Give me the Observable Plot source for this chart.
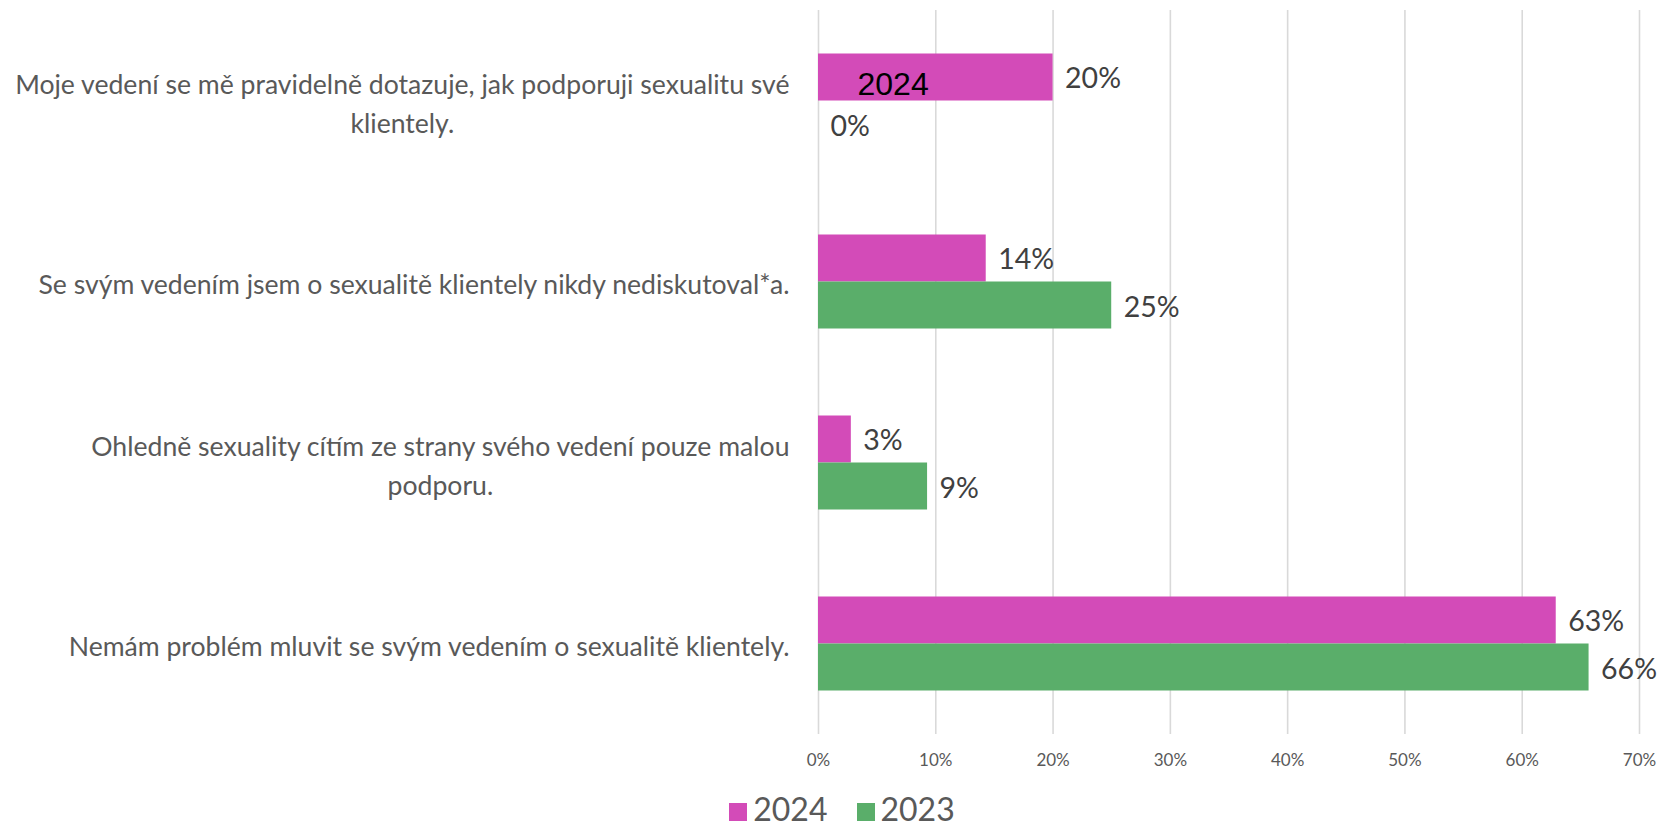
<!DOCTYPE html>
<html>
<head>
<meta charset="utf-8">
<script src="https://cdn.jsdelivr.net/npm/d3@7"></script>
<script src="https://cdn.jsdelivr.net/npm/@observablehq/plot@0.6"></script>
<style>
  html, body { margin: 0; padding: 0; background: #ffffff; overflow: hidden; }
  #chart svg { display: block; }
  #legend { height: 40px; line-height: 40px; padding-top: 4px; padding-left: 24px; text-align: center;
            font-family: Lato, "Open Sans", sans-serif; font-size: 32px; color: #595959; white-space: nowrap; }
  #legend .sw { display: inline-block; width: 18px; height: 18px; margin-right: 6px; }
  #legend .item { margin-right: 29px; }
  #legend .item:last-child { margin-right: 0; }
</style>
</head>
<body>
<div id="chart"></div>
<div id="legend"></div>
<script>
// ---- data ----
const categories = [
  "Moje vedení se mě pravidelně dotazuje, jak podporuji sexualitu své klientely.",
  "Se svým vedením jsem o sexualitě klientely nikdy nediskutoval*a.",
  "Ohledně sexuality cítím ze strany svého vedení pouze malou podporu.",
  "Nemám problém mluvit se svým vedením o sexualitě klientely."
];
const categoryLabels = [
  "Moje vedení se mě pravidelně dotazuje, jak podporuji sexualitu své\nklientely.",
  "Se svým vedením jsem o sexualitě klientely nikdy nediskutoval*a.",
  "Ohledně sexuality cítím ze strany svého vedení pouze malou\npodporu.",
  "Nemám problém mluvit se svým vedením o sexualitě klientely."
];
const series = ["2024", "2023"];
const values2024 = [20.0, 14.3, 2.8, 62.9];
const values2023 = [0.0, 25.0, 9.3, 65.7];
const xTicks = [0, 10, 20, 30, 40, 50, 60, 70];
const seriesColors = ["#D34BB8", "#5AAE6A"];

const rows2024 = categories.map((c, i) => ({category: c, series: series[0], value: values2024[i]}));
const rows2023 = categories.map((c, i) => ({category: c, series: series[1], value: values2023[i]}));
const labelOf = new Map(categories.map((c, i) => [c, categoryLabels[i]]));
const pct = d => Math.round(d.value) + "%";

const chart = Plot.plot({
  width: 1660,
  height: 785,
  marginTop: 10,
  marginBottom: 51,
  marginLeft: 818,
  marginRight: 21,
  style: {fontFamily: "Lato, 'Open Sans', sans-serif", background: "#ffffff"},
  x: {domain: [0, 70], label: null},
  y: {type: "band", domain: categories, padding: 0, label: null},
  marks: [
    Plot.gridX({ticks: xTicks, stroke: "#d9d9d9", strokeOpacity: 1, strokeWidth: 1.6}),
    Plot.barX(rows2024, {x: "value", y: "category", fill: seriesColors[0], insetTop: 43.5, insetBottom: 90.5}),
    Plot.barX(rows2023, {x: "value", y: "category", fill: seriesColors[1], insetTop: 90.5, insetBottom: 43.5}),
    Plot.text(rows2024, {x: "value", y: "category", text: pct, dx: 12, dy: -22, textAnchor: "start", fontSize: 28.5, fill: "#404040"}),
    Plot.text(rows2023, {x: "value", y: "category", text: pct, dx: 12, dy: 26, textAnchor: "start", fontSize: 28.5, fill: "#404040"}),
    Plot.text([series[0]], {x: () => 0, y: () => categories[0], text: d => d, dx: 39, dy: -16, textAnchor: "start",
      fontSize: 32, fill: "#000000", fontFamily: "'Liberation Sans', Arial, sans-serif"}),
    Plot.axisX({ticks: xTicks, tickFormat: d => d + "%", tickSize: 0, tickPadding: 19, fontSize: 17, color: "#595959", label: null}),
    Plot.axisY({tickSize: 0, tickPadding: 29, fontSize: 26.6, lineHeight: 39 / 26.6, color: "#595959", label: null,
      tickFormat: d => labelOf.get(d)})
  ]
});

document.getElementById("chart").appendChild(chart);

// center wrapped lines of the category labels within their block (as the original does)
function centerLines() {
  chart.querySelectorAll("[aria-label='y-axis tick label'] text").forEach(t => {
    const spans = Array.from(t.querySelectorAll("tspan"));
    if (spans.length < 2) return;
    const widths = spans.map(s => s.getComputedTextLength());
    const maxW = Math.max(...widths);
    spans.forEach((s, i) => s.setAttribute("x", -(maxW - widths[i]) / 2));
  });
}
centerLines();
if (document.fonts && document.fonts.ready) document.fonts.ready.then(centerLines);

// legend
const legend = document.getElementById("legend");
series.forEach((s, i) => {
  const item = document.createElement("span");
  item.className = "item";
  const sw = document.createElement("span");
  sw.className = "sw";
  sw.style.background = seriesColors[i];
  item.appendChild(sw);
  item.appendChild(document.createTextNode(s));
  legend.appendChild(item);
});
</script>
</body>
</html>
